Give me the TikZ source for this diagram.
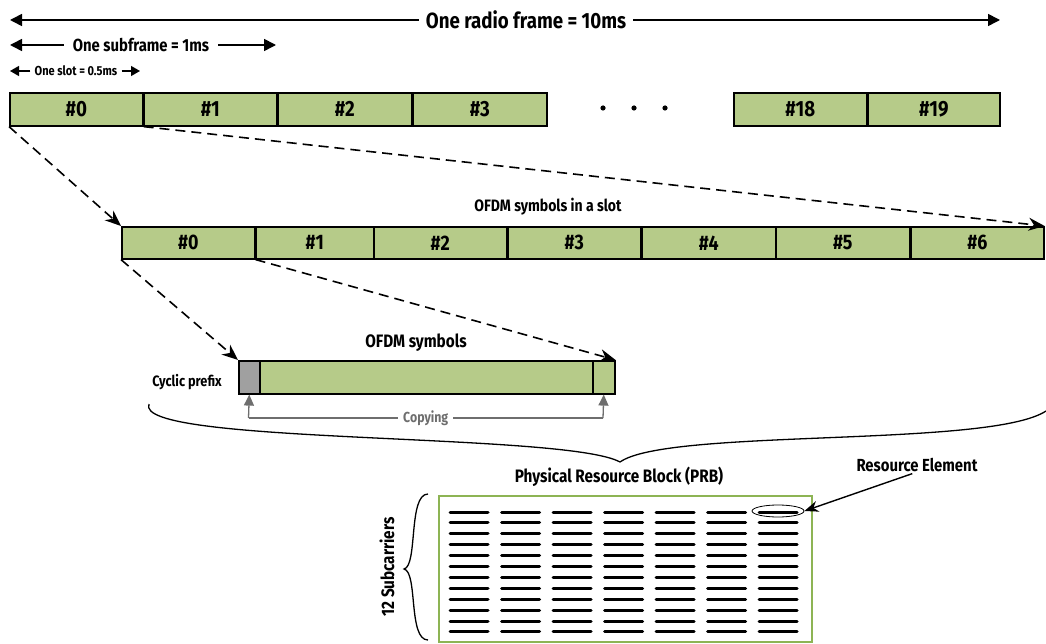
\documentclass[tikz,border=0pt]{standalone}
\usepackage{fontspec}
\setmainfont{Fira Sans}[FakeStretch=0.85]
\usetikzlibrary{arrows.meta,shapes.geometric}
\definecolor{boxgreen}{RGB}{182,203,137}
\definecolor{prbgreen}{RGB}{141,180,84}
\definecolor{cpgray}{RGB}{160,160,160}
\definecolor{copygray}{RGB}{110,110,110}
\begin{document}
\begin{tikzpicture}[x=1pt,y=-1pt,
  lbl/.style={font=\bfseries\fontsize{#1}{#1}\selectfont, inner sep=0pt},
  slotbox/.style={draw=black, line width=1.6pt, fill=boxgreen, minimum height=33pt, anchor=north west, inner sep=0pt, font=\bfseries\fontsize{22}{22}\selectfont},
  symbox/.style={slotbox, minimum height=32pt, font=\bfseries\fontsize{21}{21}\selectfont},
  span/.style={line width=1.6pt, -{Triangle[length=12pt,width=12pt]}},
  smallspan/.style={line width=1.3pt, -{Triangle[length=9pt,width=10pt]}},
  mapline/.style={line width=1.6pt, dash pattern=on 10pt off 6pt, -{Stealth[length=16pt,width=13pt]}},
  copyarrow/.style={draw=copygray, line width=1.3pt, -{Triangle[length=11pt,width=10pt]}},
  reline/.style={line width=3pt, line cap=round},
  bracestyle/.style={line width=1.3pt}
]
\useasboundingbox (0,0) rectangle (1046,644);

% span arrows
\node[lbl=22, inner sep=7pt] (frame) at (526,20) {One radio frame = 10ms};
\coordinate (fl) at (10,20); \coordinate (fr) at (1000,20);
\draw[span] (frame.west) -- (fl);
\draw[span] (frame.east) -- (fr);
\node[lbl=17.5, inner sep=9pt] (sub) at (141,45) {One subframe = 1ms};
\coordinate (sl) at (10,45); \coordinate (sr) at (276,45);
\draw[span] (sub.west) -- (sl);
\draw[span] (sub.east) -- (sr);
\node[lbl=13, inner sep=4pt] (slot) at (76,71) {One slot = 0.5ms};
\coordinate (ol) at (10,71); \coordinate (or) at (140,71);
\draw[smallspan] (slot.west) -- (ol);
\draw[smallspan] (slot.east) -- (or);

% row 1 slots
\node[slotbox, minimum width=133pt] (s0) at (9,92) {\#0};
\node[slotbox, minimum width=133pt] (s1) at (143,92) {\#1};
\node[slotbox, minimum width=134pt] (s2) at (277,92) {\#2};
\node[slotbox, minimum width=134pt] (s3) at (412,92) {\#3};
\node[slotbox, minimum width=133pt] (s18) at (733,92) {\#18};
\node[slotbox, minimum width=132pt] (s19) at (867,92) {\#19};
\foreach \dx in {603,634,665} \fill (\dx,108) circle (2.6pt);

% row 2 symbols
\node[lbl=16.5] (slotlbl) at (548,207) {OFDM symbols in a slot};
\node[symbox, minimum width=133pt] (r0) at (121,226) {\#0};
\node[symbox, minimum width=118pt] (r1) at (255,226) {\#1};
\node[symbox, minimum width=133pt] (r2) at (373,226) {\#2};
\node[symbox, minimum width=133pt] (r3) at (507,226) {\#3};
\node[symbox, minimum width=134pt] (r4) at (641,226) {\#4};
\node[symbox, minimum width=134pt] (r5) at (775,226) {\#5};
\node[symbox, minimum width=133pt] (r6) at (910,226) {\#6};

% row 3 OFDM symbol
\node[lbl=18] (symlbl) at (416,343) {OFDM symbols};
\node[slotbox, fill=cpgray, minimum width=21pt] (cp) at (238,360) {};
\node[slotbox, minimum width=333pt] (body) at (259,360) {};
\node[slotbox, minimum width=22pt] (tail) at (592,360) {};
\node[lbl=15] (cplbl) at (187,382) {Cyclic prefix};

% mapping dashed arrows
\draw[mapline] (s0.south west) -- (r0.north west);
\draw[mapline] (s0.south east) -- (r6.north east);
\draw[mapline] (r0.south west) -- (cp.north west);
\draw[mapline] (r0.south east) -- (tail.north east);

% copying
\coordinate (c1) at (248.5,418);
\coordinate (c2) at (603,418);
\draw[copygray, line width=1.3pt] (c1) -- node[fill=white, inner sep=5pt, text=copygray, font=\bfseries\fontsize{14.5}{14.5}\selectfont] (copylbl) {Copying} (c2);
\draw[copyarrow] (c1) -- (cp.south);
\draw[copyarrow] (c2) -- (tail.south);

% big brace
\draw[bracestyle] (149,404) .. controls (132,445) and (565,432) .. (620,462)
  .. controls (668,428) and (990,448) .. (1046,411);

% PRB
\node[lbl=18] (prblbl) at (619,477) {Physical Resource Block (PRB)};
\node[draw=prbgreen, line width=2.2pt, minimum width=373pt, minimum height=146pt, anchor=north west, inner sep=0pt] (prb) at (438,495) {};
\foreach \c in {0,...,6}
  \foreach \r in {0,...,11}
    \draw[reline] ({450+51.5*\c},{512+10.9*\r}) -- ++(38,0);
\node[draw, ellipse, line width=0.8pt, minimum width=52pt, minimum height=12pt, inner sep=0pt] (re) at (778,511) {};
\node[lbl=17.5] (relbl) at (917,465) {Resource Element};
\draw[line width=1.4pt, shorten <=5pt, -{Stealth[length=14pt,width=11pt]}] (relbl.south) -- (re.east);

% subcarrier brace
\node[lbl=18, rotate=90] (sclbl) at (387,567) {12 Subcarriers};
\draw[bracestyle] (428,494) .. controls (408,494) and (418,566) .. (404,569)
  .. controls (418,572) and (408,640) .. (428,640);
\end{tikzpicture}
\end{document}
